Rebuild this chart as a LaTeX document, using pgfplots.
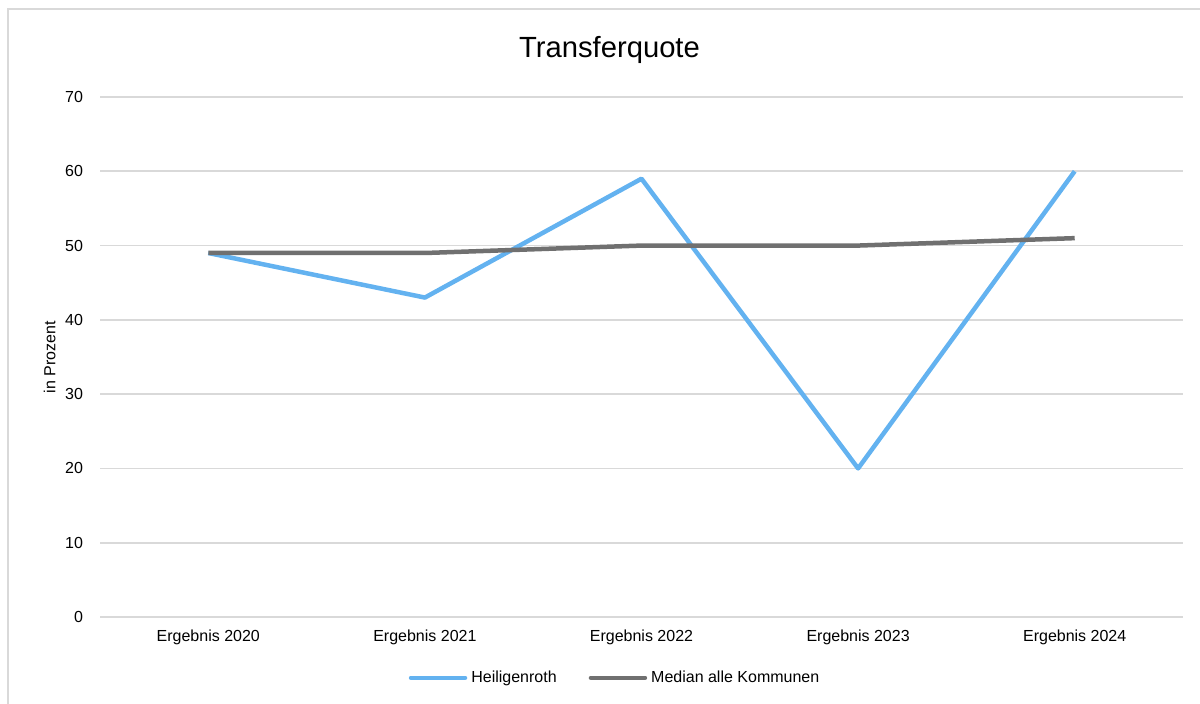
\documentclass[border=0pt]{standalone}
\usepackage{pgfplots}
\pgfplotsset{compat=1.18}
\usepackage{fontspec}
\setmainfont{Liberation Sans}
\definecolor{blueline}{RGB}{99,178,240}
\definecolor{grayline}{RGB}{112,112,112}
\definecolor{gridc}{RGB}{217,217,217}
\begin{document}
\begin{tikzpicture}
\useasboundingbox (0,0) rectangle (600pt,352pt);
\draw[gridc, line width=1pt] (4pt,0) -- (4pt,347.5pt) -- (600pt,347.5pt);
\node[font=\fontsize{14.6}{17}\selectfont] at (304.75pt,327pt) {Transferquote};
\begin{axis}[
  at={(50pt,43.5pt)}, anchor=south west,
  scale only axis, width=541.5pt, height=260pt,
  xmin=-0.5, xmax=4.5, ymin=0, ymax=70,
  ytick={0,10,...,70},
  xtick={0,1,2,3,4},
  xticklabels={Ergebnis 2020,Ergebnis 2021,Ergebnis 2022,Ergebnis 2023,Ergebnis 2024},
  axis line style={draw=none},
  major tick length=0pt,
  ymajorgrids, grid style={gridc, line width=0.8pt},
  tick label style={font=\fontsize{8}{9.6}\selectfont},
  /pgf/number format/assume math mode=true,
  yticklabel style={xshift=-5pt},
  xticklabel style={yshift=-3pt},
  ylabel={in Prozent},
  ylabel style={font=\fontsize{8}{9.6}\selectfont, yshift=-2pt},
  legend style={at={(0.4765,-0.117)}, anchor=center, draw=none, legend columns=2,
    font=\fontsize{8}{9.6}\selectfont, /tikz/every even column/.append style={column sep=14pt}},
  legend image code/.code={\draw[#1, line cap=round] (0pt,0pt) -- (27pt,0pt);},
  clip=false,
]
\addplot[blueline, line width=2.25pt, line join=round] coordinates {(0,49) (1,43) (2,59) (3,20) (4,60)};
\addlegendentry{Heiligenroth}
\addplot[grayline, line width=2.25pt, line join=round] coordinates {(0,49) (1,49) (2,50) (3,50) (4,51)};
\addlegendentry{Median alle Kommunen}
\end{axis}
\end{tikzpicture}
\end{document}
